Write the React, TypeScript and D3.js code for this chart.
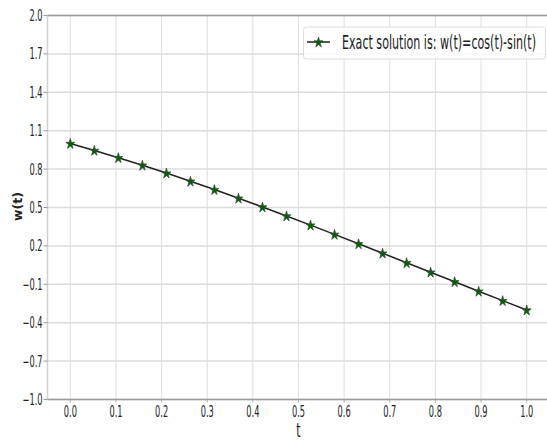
import React from "react";
import * as d3 from "d3";

const tValues = [0, 0.05263, 0.10526, 0.15789, 0.21053, 0.26316, 0.31579, 0.36842, 0.42105, 0.47368, 0.52632, 0.57895, 0.63158, 0.68421, 0.73684, 0.78947, 0.84211, 0.89474, 0.94737, 1.0];
const wValues = [1.0, 0.946, 0.8894, 0.8303, 0.7689, 0.7054, 0.64, 0.5728, 0.504, 0.4338, 0.3625, 0.2901, 0.2168, 0.143, 0.0688, -0.0056, -0.08, -0.1541, -0.2277, -0.3012];
const xTicks = [0.0, 0.1, 0.2, 0.3, 0.4, 0.5, 0.6, 0.7, 0.8, 0.9, 1.0];
const yTicks = [2.0, 1.7, 1.4, 1.1, 0.8, 0.5, 0.2, -0.1, -0.4, -0.7, -1.0];
const legendLabel = "Exact solution is: w(t)=cos(t)-sin(t)";
const xLabel = "t";
const yLabel = "w(t)";

const W = 547;
const H = 441;
const SQ = 0.55;
const FONT = "'DejaVu Sans', sans-serif";

const fmt = (v: number) => {
  const s = Math.abs(v).toFixed(1);
  return v < -1e-9 ? "\u2212" + s : s;
};

export default function App() {
  const x = d3.scaleLinear().domain([-0.05, 1.05]).range([47.5, 549.5]);
  const y = d3.scaleLinear().domain([-1, 2]).range([399.5, 15.5]);
  const pts = tValues.map((t, i) => [x(t), y(wValues[i])] as [number, number]);
  const line = d3.line()(pts) || "";
  const star = d3.symbol().type(d3.symbolStar).size(34)() || "";

  const Star = ({ cx, cy }: { cx: number; cy: number }) => (
    <path d={star} transform={`translate(${cx},${cy + 0.5}) scale(0.85,1)`} fill="#006400" stroke="#3a4a3a" strokeWidth={0.8} />
  );

  return (
    <svg width={W} height={H} style={{ position: "absolute", left: 0, top: 0, background: "#fff" }} xmlns="http://www.w3.org/2000/svg">
      <rect x={0} y={0} width={W} height={H} fill="#fff" />
      {/* grid */}
      {xTicks.map((t) => (
        <line key={"gx" + t} x1={x(t)} x2={x(t)} y1={y(2)} y2={y(-1)} stroke="#d6d6d6" strokeWidth={0.8} />
      ))}
      {yTicks.map((v) => (
        <line key={"gy" + v} x1={x(-0.05)} x2={W} y1={y(v)} y2={y(v)} stroke="#dcdcdc" strokeWidth={1.5} />
      ))}
      {/* spines */}
      <line x1={x(-0.05)} x2={W} y1={y(2)} y2={y(2)} stroke="#9a9a9a" strokeWidth={1.5} />
      <line x1={x(-0.05)} x2={W} y1={y(-1)} y2={y(-1)} stroke="#9a9a9a" strokeWidth={1.5} />
      <line x1={x(-0.05)} x2={x(-0.05)} y1={y(2)} y2={y(-1)} stroke="#d0d0d0" strokeWidth={1.5} />
      {/* y ticks */}
      {yTicks.map((v) => (
        <g key={"ty" + v}>
          <line x1={x(-0.05) - 4} x2={x(-0.05)} y1={y(v)} y2={y(v)} stroke="#9a9a9a" strokeWidth={1} />
          <text transform={`translate(${x(-0.05) - 5},${y(v) + 5.5}) scale(${SQ},1)`} textAnchor="end" fontFamily={FONT} fontSize={15} fill="#222">
            {fmt(v)}
          </text>
        </g>
      ))}
      {/* x ticks */}
      {xTicks.map((t) => (
        <g key={"tx" + t}>
          <line x1={x(t)} x2={x(t)} y1={y(-1)} y2={y(-1) + 3} stroke="#9a9a9a" strokeWidth={0.8} />
          <text transform={`translate(${x(t)},${417}) scale(${SQ},1)`} textAnchor="middle" fontFamily={FONT} fontSize={15} fill="#222">
            {fmt(t)}
          </text>
        </g>
      ))}
      {/* labels */}
      <text transform={`translate(${(x(-0.05) + x(1.05)) / 2},${437}) scale(${SQ},1)`} textAnchor="middle" fontFamily={FONT} fontSize={20} fill="#222">
        {xLabel}
      </text>
      <text transform={`translate(22,${206.5}) rotate(-90)`} textAnchor="middle" fontFamily={FONT} fontSize={12.5} fontWeight="bold" fill="#222">
        {yLabel}
      </text>
      {/* series */}
      <path d={line} fill="none" stroke="#222" strokeWidth={1.5} />
      {pts.map(([px, py], i) => (
        <Star key={"s" + i} cx={px} cy={py} />
      ))}
      {/* legend */}
      <rect x={303.5} y={27} width={242} height={32} rx={3} fill="#fff" fillOpacity={0.85} stroke="#dddddd" strokeWidth={1} />
      <line x1={307} x2={330} y1={42} y2={42} stroke="#222" strokeWidth={1.5} />
      <Star cx={318.5} cy={42} />
      <text transform={`translate(342,48.5) scale(0.585,1)`} fontFamily={FONT} fontSize={19} fill="#222">
        {legendLabel}
      </text>
    </svg>
  );
}
